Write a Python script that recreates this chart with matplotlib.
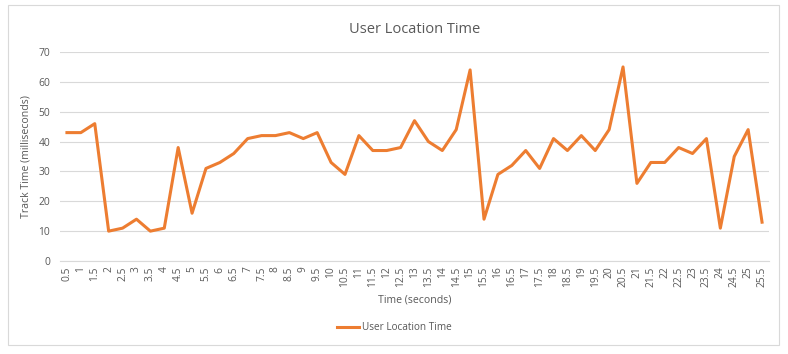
import matplotlib
matplotlib.use("Agg")
import matplotlib.pyplot as plt
from matplotlib.patches import Rectangle

# Данные графика
time_labels = ["0.5", "1", "1.5", "2", "2.5", "3", "3.5", "4", "4.5", "5",
               "5.5", "6", "6.5", "7", "7.5", "8", "8.5", "9", "9.5", "10",
               "10.5", "11", "11.5", "12", "12.5", "13", "13.5", "14", "14.5", "15",
               "15.5", "16", "16.5", "17", "17.5", "18", "18.5", "19", "19.5", "20",
               "20.5", "21", "21.5", "22", "22.5", "23", "23.5", "24", "24.5", "25",
               "25.5"]
track_time = [43, 43, 46, 10, 11, 14, 10, 11, 38, 16,
              31, 33, 36, 41, 42, 42, 43, 41, 43, 33,
              29, 42, 37, 37, 38, 47, 40, 37, 44, 64,
              14, 29, 32, 37, 31, 41, 37, 42, 37, 44,
              65, 26, 33, 33, 38, 36, 41, 11, 35, 44,
              13]
series_name = "User Location Time"

plt.rcParams['font.family'] = ['Open Sans', 'DejaVu Sans']
text_color = '#595959'

fig = plt.figure(figsize=(7.88, 3.54), dpi=100)
ax = fig.add_axes([60 / 788, 1 - 261 / 354, 709 / 788, 209 / 354])

# Рамка вокруг всей диаграммы
fig.patches.append(Rectangle((8 / 788, 1 - 345 / 354), 771 / 788, 340 / 354,
                             transform=fig.transFigure, fill=False,
                             edgecolor='#D9D9D9', linewidth=0.8))

x = list(range(len(time_labels)))
ax.plot(x, track_time, color='#ED7D31', linewidth=2.2, label=series_name)

ax.set_xlim(-0.5, len(time_labels) - 0.5)
ax.set_ylim(0, 70)
ax.set_yticks(range(0, 71, 10))
ax.set_xticks(x)
ax.set_xticklabels(time_labels, rotation=90)
ax.tick_params(axis='both', length=0, colors=text_color, labelsize=7.4)
ax.tick_params(axis='y', pad=7)
ax.tick_params(axis='x', pad=4)

ax.grid(axis='y', color='#D9D9D9', linewidth=0.8)
ax.set_axisbelow(True)
for side in ['top', 'right', 'left']:
    ax.spines[side].set_visible(False)
ax.spines['bottom'].set_color('#D9D9D9')

ax.set_title("User Location Time", color=text_color, fontsize=10.5, pad=14)
ax.set_xlabel("Time (seconds)", color=text_color, fontsize=7.6, labelpad=5)
ax.set_ylabel("Track Time (milliseconds)", color=text_color, fontsize=7.6, labelpad=5)

leg = fig.legend(loc='center', bbox_to_anchor=(0.5, 1 - 328 / 354), frameon=False,
                 fontsize=7.2, handlelength=2.2, handletextpad=0.3)
for t in leg.get_texts():
    t.set_color(text_color)

fig.savefig("out.png", dpi=100)
